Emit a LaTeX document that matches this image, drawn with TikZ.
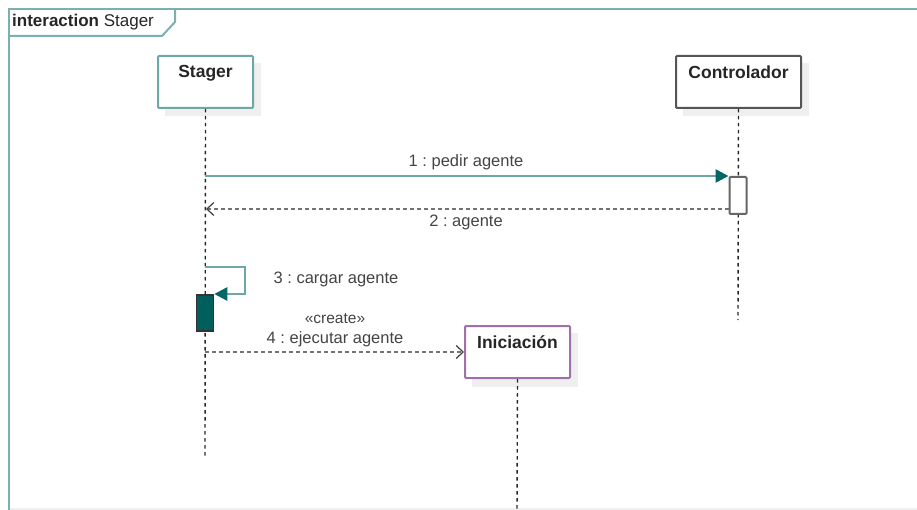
\documentclass[tikz,border=0pt]{standalone}
\usepackage{fontspec}
\setmainfont{Liberation Sans}
\usetikzlibrary{arrows.meta}

\definecolor{frameteal}{HTML}{7AB0B0}
\definecolor{msgteal}{HTML}{6FA6A6}
\definecolor{headteal}{HTML}{006666}
\definecolor{actteal}{HTML}{005F5C}
\definecolor{purpleline}{HTML}{A070AA}
\definecolor{boxgray}{HTML}{555555}
\definecolor{shadowgray}{HTML}{EFEFEF}
\definecolor{txtgray}{HTML}{444444}

\tikzset{
  lifebox/.style={draw, line width=2pt, fill=white, minimum height=52pt,
    inner sep=0pt, rounded corners=1pt},
  headtext/.style={font=\bfseries\fontsize{17.5}{19}\selectfont, text=black!85, anchor=north},
  lifeline/.style={line width=1.4pt, draw=black!85, dash pattern=on 3.5pt off 3.5pt},
  msglabel/.style={font=\fontsize{16.5}{18}\selectfont, text=txtgray, inner sep=1pt},
  replymsg/.style={line width=1.5pt, draw=gray!90!black, dash pattern=on 4pt off 3pt},
  openhead/.style={-{Straight Barb[length=7pt,width=13pt,line width=1.2pt,black!75]}},
  filledhead/.style={-{Triangle[length=13pt,width=13pt,fill=headteal,color=headteal]}},
}

\begin{document}
\frenchspacing
\begin{tikzpicture}[x=1pt,y=-1pt]
\useasboundingbox (0,0) rectangle (917,510);

% interaction frame
\draw[shadowgray, line width=1.5pt] (9,509) -- (917,509);
\draw[frameteal, line width=2.6pt] (9,511) -- (9,9) -- (920,9);
\draw[frameteal, line width=2pt] (9,36) -- (162,36) -- (175,22) -- (175,9);
\node[anchor=west, inner sep=0pt, font=\fontsize{17}{19}\selectfont, text=black!85]
  (framelabel) at (12,22) {\textbf{interaction} Stager};

% shadows of lifeline heads
\fill[shadowgray] (165,63) rectangle (261,116);
\fill[shadowgray] (683,63) rectangle (809,116);
\fill[shadowgray] (472,333) rectangle (578,387);

% lifeline heads
\node[lifebox, draw=msgteal, minimum width=95pt, anchor=north west] (stager) at (157,55) {};
\node[headtext] (stagertxt) at ([yshift=-7pt]stager.north) {Stager};
\node[lifebox, draw=boxgray, minimum width=125pt, anchor=north west] (ctrl) at (675,55) {};
\node[headtext] (ctrltxt) at ([yshift=-7pt]ctrl.north) {Controlador};

% lifelines
\coordinate (stagerend) at (205,456);
\coordinate (ctrlend) at (738,320);
\draw[lifeline] (stager.south) -- (stagerend);
\draw[lifeline] (ctrl.south) -- (ctrlend);

% activation on Controlador
\node[draw=gray!80!black, line width=2pt, fill=white, minimum width=17pt, minimum height=37pt,
  inner sep=0pt, rounded corners=1pt, anchor=north] (ctrlact) at (738,176) {};

% message 1
\coordinate (m1start) at (205,176);
\draw[msgteal, line width=2.6pt, filledhead] (m1start) -- (ctrlact.north west);
\node[msglabel] (m1label) at (466,162) {1 : pedir agente};

% message 2 (reply)
\coordinate (m2end) at (206,209);
\draw[replymsg, openhead] (ctrlact.west |- 0,209) -- (m2end);
\node[msglabel] (m2label) at (466,222) {2 : agente};

% activation on Stager
\node[draw=black!80, line width=1.5pt, fill=actteal, minimum width=17pt, minimum height=36pt,
  inner sep=0pt, anchor=north] (stageract) at (205,294) {};

% message 3 (self call)
\coordinate (m3a) at (205,267);
\coordinate (m3b) at (245,267);
\coordinate (m3c) at (245,294);
\draw[msgteal, line width=2.6pt, filledhead] (m3a) -- (m3b) -- (m3c) -- (stageract.north east);
\node[msglabel] (m3label) at (336,279) {3 : cargar agente};

% Iniciacion lifeline head (created by message 4)
\node[lifebox, draw=purpleline, minimum width=105pt, anchor=north west] (inic) at (464,325) {};
\node[headtext] (inictxt) at ([yshift=-7pt]inic.north) {Iniciación};
\coordinate (inicend) at (517,512);
\draw[lifeline] (inic.south) -- (inicend);

% message 4 (create)
\coordinate (m4start) at (205,352);
\draw[replymsg, openhead] (m4start) -- (inic.west |- 0,352);
\node[msglabel, font=\fontsize{15.5}{17}\selectfont] (m4stereo) at (335,319) {«create»};
\node[msglabel] (m4label) at (335,339) {4 : ejecutar agente};
\end{tikzpicture}
\end{document}
